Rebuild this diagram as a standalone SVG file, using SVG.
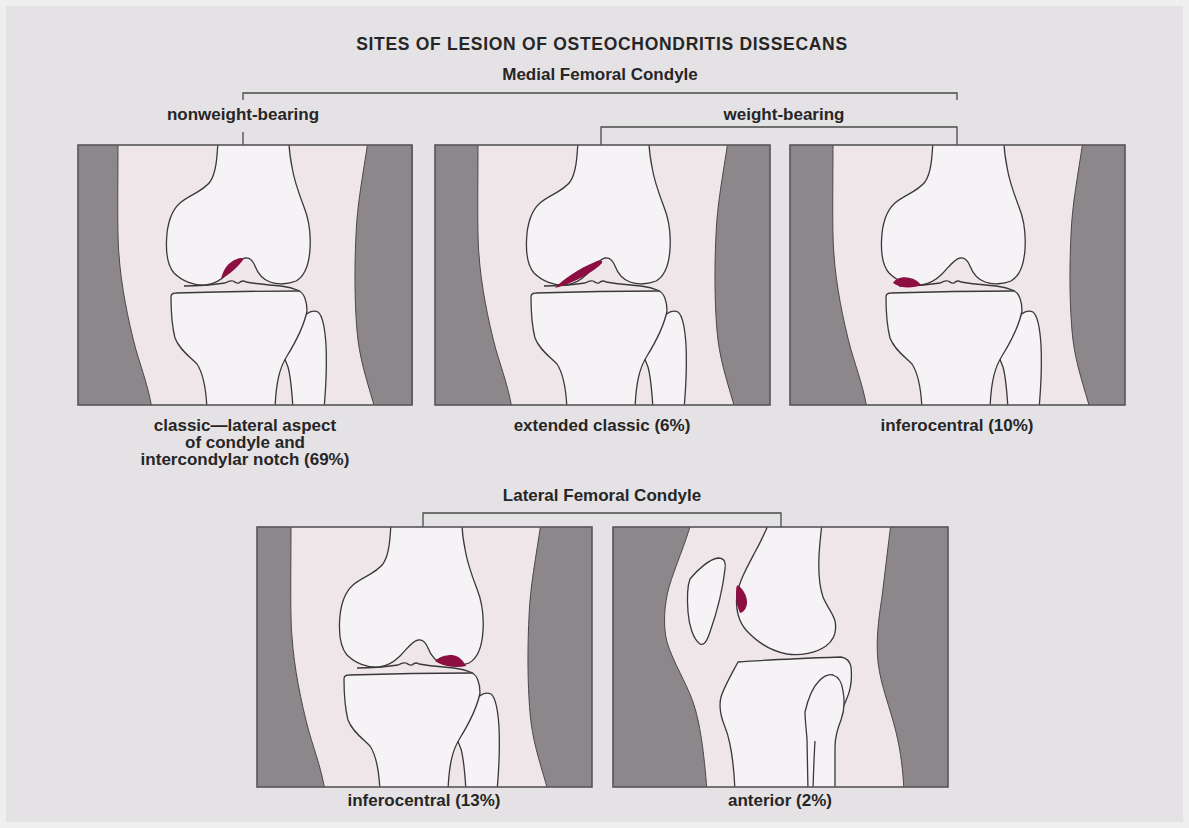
<svg xmlns="http://www.w3.org/2000/svg" xmlns:xlink="http://www.w3.org/1999/xlink" width="1189" height="828" viewBox="0 0 1189 828">
<style>
  .txt{font-family:"Liberation Sans",Arial,Helvetica,sans-serif;font-weight:bold;font-size:17px;fill:#262626;text-anchor:middle}
  .title{font-size:17.5px;letter-spacing:0.7px}
  .flesh{fill:#efe6e9}
  .band{fill:#8c878a;stroke:#4a4749;stroke-width:1}
  .bone{fill:#f6f3f7;stroke:#3a383a;stroke-width:1.3;stroke-linejoin:round}
  .line{fill:none;stroke:#3a383a;stroke-width:1.3}
  .frame{fill:none;stroke:#575557;stroke-width:1.6}
  .lesion{fill:#8d0f42}
  .conn{fill:none;stroke:#4a4a4a;stroke-width:1.3}
</style>
<defs>
  <clipPath id="clipPanel"><rect x="0" y="0" width="335" height="260"/></clipPath>
  <!-- frontal view of the knee: soft tissue bands, femur, fibula, tibia -->
  <g id="kneeFront">
    <path class="band" d="M-20,-4 L40,-4 C40,40 39,90 41,110 C43,140 50,175 58,205 C65,228 71,245 74,264 L-20,264 Z"/>
    <path class="band" d="M290,-4 C285,30 279,60 278,90 C276,130 277,170 280,195 C283,220 292,245 297,264 L360,264 L360,-4 Z"/>
    <path class="bone" d="M140,-4 C139,14 138,28 132,37 C124,47 111,50 102,58 C93,66 89,80 88.5,96 C88,110 90,121 96,128 C104,136 116,141 128,140 C137,139 143,135 149,129 C156,122 161,114 167,113 C172,112 175,116 177,121 C180,129 184,134 192,137 C200,140 211,139 218,136 C227,131 231,120 232,104 C233,88 230,72 226,62 C221,49 216,35 214,22 C212,12 211,5 211,-4 Z"/>
    <path class="bone" d="M226,172 C229,167 235,165 240,167 C245,171 247,184 248,200 C249,222 248,242 246,264 L215,264 C214,247 213,233 210,222 L206,212 Z"/>
    <path class="bone" d="M93,152 C93,149 95,148 98,148 C130,147 180,146 221,146 C226,148 229,156 229,166 C226,181 217,198 209,211 C202,222 198,236 197,264 L129,264 C128,242 125,228 119,219 C111,211 101,204 97,193 C94,181 93,166 93,152 Z"/>
    <path class="line" d="M106,141 C118,141 134,140 147,138 C150,137 152,135 155,136 C157,137 159,139 161,138 C163,136 165,135 168,137 C178,139 192,140 203,141 C211,142 217,144 222,146"/>
  </g>
</defs>

<!-- page -->
<rect x="0" y="0" width="1189" height="828" fill="#efefef"/>
<rect x="6" y="6" width="1177" height="816" fill="#e5e2e5"/>

<g id="title">
  <text class="txt title" x="602" y="50">SITES OF LESION OF OSTEOCHONDRITIS DISSECANS</text>
</g>

<g id="medial-heading">
  <text class="txt" x="600" y="80">Medial Femoral Condyle</text>
</g>
<g id="nonweight-heading">
  <text class="txt" x="243" y="120">nonweight-bearing</text>
</g>
<g id="weight-heading">
  <text class="txt" x="784" y="120">weight-bearing</text>
</g>
<g id="lateral-heading">
  <text class="txt" x="602" y="501">Lateral Femoral Condyle</text>
</g>

<!-- bracket connectors -->
<g id="connectors">
  <path class="conn" d="M243,100 V93 H957 V100"/>
  <path class="conn" d="M243,132 V145"/>
  <path class="conn" d="M601,145 V127 H957 V145"/>
  <path class="conn" d="M423,527 V513 H781 V527"/>
</g>

<!-- medial condyle, classic site -->
<g id="panel-classic" transform="translate(78,145)">
  <g clip-path="url(#clipPanel)">
    <rect class="flesh" width="335" height="260"/>
    <use href="#kneeFront" xlink:href="#kneeFront"/>
    <path class="lesion" d="M143,134 C145,125 150,117 159,114 C163,112 166,113 165,115 C160,122 152,129 143,134 Z"/>
  </g>
  <rect class="frame" x="0" y="0" width="334" height="260"/>
  <text class="txt" x="167" y="286">classic—lateral aspect</text>
  <text class="txt" x="167" y="303">of condyle and</text>
  <text class="txt" x="167" y="320">intercondylar notch (69%)</text>
</g>

<!-- medial condyle, extended classic site -->
<g id="panel-extended" transform="translate(435,145)">
  <g clip-path="url(#clipPanel)">
    <rect class="flesh" width="335" height="260"/>
    <use href="#kneeFront" xlink:href="#kneeFront" x="3"/>
    <path class="lesion" d="M120,143 C128,134 145,123 160,117 C164,115 168,115 167,118 C160,126 140,138 120,143 Z"/>
  </g>
  <rect class="frame" x="0" y="0" width="335" height="260"/>
  <text class="txt" x="167" y="286">extended classic (6%)</text>
</g>

<!-- medial condyle, inferocentral site -->
<g id="panel-medial-inferocentral" transform="translate(790,145)">
  <g clip-path="url(#clipPanel)">
    <rect class="flesh" width="335" height="260"/>
    <use href="#kneeFront" xlink:href="#kneeFront" x="3"/>
    <path class="lesion" d="M103,138 C106,133 113,131 120,133 C125,134 129,137 131,140 C124,143 111,144 103,138 Z"/>
  </g>
  <rect class="frame" x="0" y="0" width="335" height="260"/>
  <text class="txt" x="167" y="286">inferocentral (10%)</text>
</g>

<!-- lateral condyle, inferocentral site -->
<g id="panel-lateral-inferocentral" transform="translate(257,527)">
  <g clip-path="url(#clipPanel)">
    <rect class="flesh" width="335" height="260"/>
    <use href="#kneeFront" xlink:href="#kneeFront" x="-6"/>
    <path class="lesion" d="M178,134 C182,130 188,128 195,128 C202,129 206,133 209,139 C200,141 187,140 178,134 Z"/>
  </g>
  <rect class="frame" x="0" y="0" width="335" height="260"/>
  <text class="txt" x="167" y="279">inferocentral (13%)</text>
</g>

<!-- lateral condyle, anterior site (side view) -->
<g id="panel-anterior" transform="translate(613,527)">
  <g clip-path="url(#clipPanel)">
    <rect class="flesh" width="335" height="260"/>
    <path class="band" d="M-20,-4 L78,-4 C73,15 62,40 56,60 C51,78 50,100 54,115 C60,135 73,155 80,175 C87,195 91,225 94,264 L-20,264 Z"/>
    <path class="band" d="M278,-4 C275,20 272,45 269,70 C265,95 263,115 265,135 C268,160 277,180 283,205 C288,225 290,245 291,264 L360,264 L360,-4 Z"/>
    <path class="bone" d="M77,52 C85,42 97,32 105,31 C112,31 113,36 112,42 C110,60 104,85 97,105 C94,114 91,119 87,117 C80,112 76,98 75,85 C74,72 74,60 77,52 Z"/>
    <path class="bone" d="M156,-4 C151,8 146,18 141,27 C133,42 126,55 124,68 C122,82 126,95 133,103 C143,114 158,124 174,127 C188,129 203,126 213,119 C221,113 224,104 222,94 C220,86 214,80 210,70 C205,55 205,35 207,15 L209,-4 Z"/>
    <path class="bone" d="M125,135 C150,133 200,131 228,130 C234,131 237,135 238,140 C239,150 239,160 234,171 L222,200 L205,264 L122,264 C121,240 118,215 112,200 C107,188 106,178 108,170 C111,160 118,148 125,135 Z"/>
    <path class="bone" d="M192,185 C195,172 200,160 206,154 C211,149 216,147 220,148 C226,150 229,156 230,164 C232,175 231,185 228,193 C224,203 222,210 222,220 L222,264 L195,264 L194,212 C193,200 192,192 192,185 Z"/>
    <path class="line" d="M202,214 C201,230 200.5,245 200,264"/>
    <path class="lesion" d="M125,58 C130,62 134,69 134,75 C134,81 131,85 127,86 C124,80 123,73 123,68 C123,63 123,59 125,58 Z"/>
  </g>
  <rect class="frame" x="0" y="0" width="335" height="260"/>
  <text class="txt" x="167" y="279">anterior (2%)</text>
</g>
</svg>
